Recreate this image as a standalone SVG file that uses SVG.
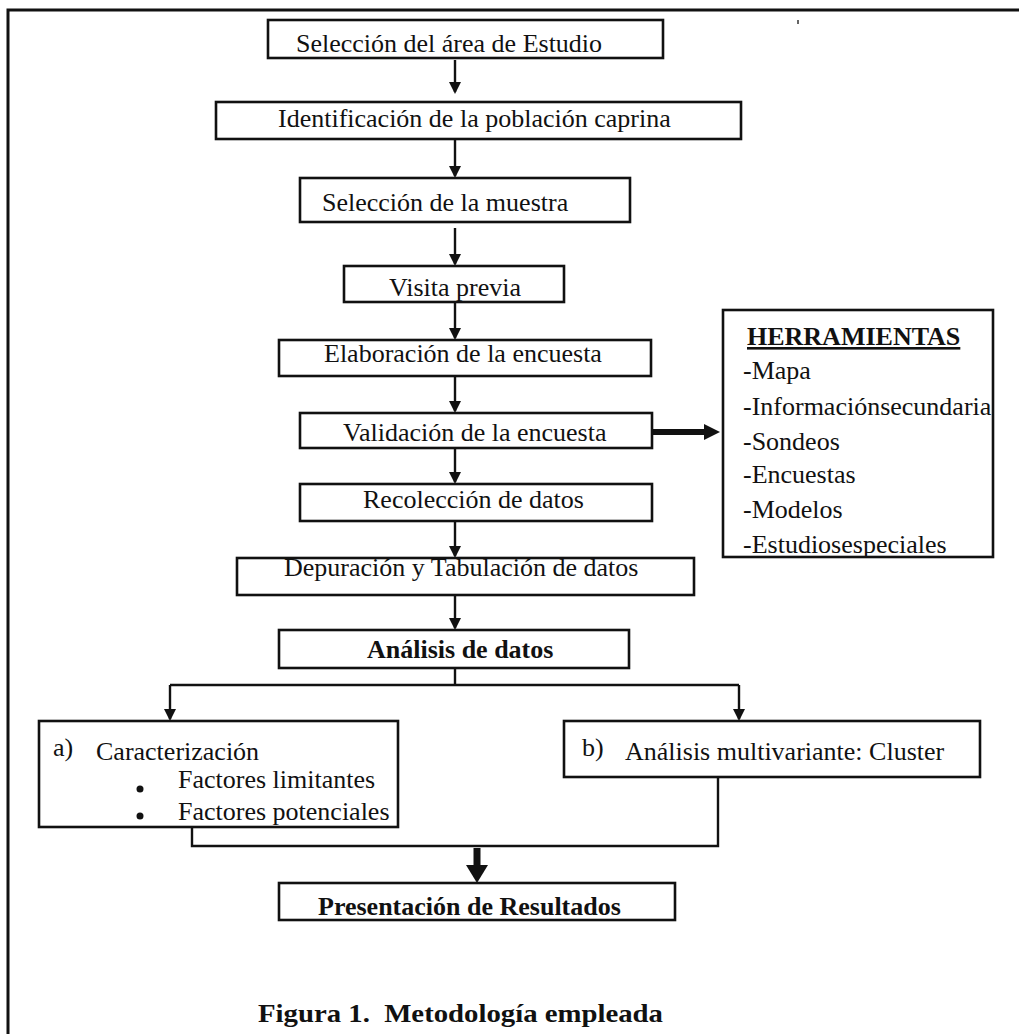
<svg xmlns="http://www.w3.org/2000/svg" width="1019" height="1034" viewBox="0 0 1019 1034">
<style>
.box{fill:#fff;stroke:#111;stroke-width:2.6}
.t{font-family:"Liberation Serif","Times New Roman",serif;font-size:26px;fill:#111}
.b{font-weight:bold}
.ln{fill:none;stroke:#111;stroke-width:2.4}
.ah{fill:#111}
</style>
<defs>
<marker id="arr" markerWidth="12" markerHeight="12" refX="10" refY="6" orient="auto" markerUnits="userSpaceOnUse">
<path d="M0,0 L12,6 L0,12 Z" class="ah"/>
</marker>
</defs>
<rect width="1019" height="1034" fill="#fff"/>
<g id="frame">
<path d="M8,1034 V10 H1019" fill="none" stroke="#111" stroke-width="3"/>
<rect x="797" y="20" width="2" height="4" fill="#666"/>
</g>
<g id="connectors">
<line class="ln" x1="455" y1="60" x2="455" y2="92" marker-end="url(#arr)"/>
<line class="ln" x1="455" y1="140" x2="455" y2="176" marker-end="url(#arr)"/>
<line class="ln" x1="455" y1="228" x2="455" y2="264" marker-end="url(#arr)"/>
<line class="ln" x1="455" y1="302" x2="455" y2="338" marker-end="url(#arr)"/>
<line class="ln" x1="455" y1="377" x2="455" y2="411" marker-end="url(#arr)"/>
<line class="ln" x1="455" y1="449" x2="455" y2="482" marker-end="url(#arr)"/>
<line class="ln" x1="455" y1="522" x2="455" y2="556" marker-end="url(#arr)"/>
<line class="ln" x1="455" y1="596" x2="455" y2="628" marker-end="url(#arr)"/>
<path d="M652,432 H706" fill="none" stroke="#111" stroke-width="6"/>
<path d="M704,424 L720,432 L704,440 Z" class="ah"/>
<path class="ln" d="M455,669 V685"/>
<path class="ln" d="M170,685 H739"/>
<line class="ln" x1="170" y1="685" x2="170" y2="719" marker-end="url(#arr)"/>
<line class="ln" x1="739" y1="685" x2="739" y2="719" marker-end="url(#arr)"/>
<path class="ln" d="M192,828 V846 H718 V778"/>
<path d="M477,848 V868" fill="none" stroke="#111" stroke-width="7"/>
<path d="M466,865 L488,865 L477,883 Z" class="ah"/>
</g>
<g id="n1"><rect class="box" x="268" y="20" width="395" height="38"/><text class="t" x="296" y="52">Selección del área de Estudio</text></g>
<g id="n2"><rect class="box" x="216" y="102" width="525" height="37"/><text class="t" x="278" y="127">Identificación de la población caprina</text></g>
<g id="n3"><rect class="box" x="300" y="178" width="330" height="44"/><text class="t" x="322" y="211">Selección de la muestra</text></g>
<g id="n4"><rect class="box" x="344" y="266" width="220" height="36"/><text class="t" x="389" y="296">Visita previa</text></g>
<g id="n5"><rect class="box" x="279" y="340" width="372" height="36"/><text class="t" x="324" y="362">Elaboración de la encuesta</text></g>
<g id="n6"><rect class="box" x="300" y="413" width="352" height="35"/><text class="t" x="343" y="441">Validación de la encuesta</text></g>
<g id="n7"><rect class="box" x="300" y="484" width="352" height="37"/><text class="t" x="363" y="508">Recolección de datos</text></g>
<g id="n8"><rect class="box" x="237" y="558" width="457" height="37"/><text class="t" x="284" y="576">Depuración y Tabulación de datos</text></g>
<g id="n9"><rect class="box" x="279" y="630" width="350" height="38"/><text class="t b" x="367" y="658">Análisis de datos</text></g>
<g id="herramientas">
<rect class="box" x="723" y="310" width="270" height="247"/>
<text class="t b" x="747" y="345" text-decoration="underline">HERRAMIENTAS</text>
<text class="t" x="743" y="379">-Mapa</text>
<text class="t" x="743" y="415">-Informaciónsecundaria</text>
<text class="t" x="743" y="450">-Sondeos</text>
<text class="t" x="743" y="483">-Encuestas</text>
<text class="t" x="743" y="518">-Modelos</text>
<text class="t" x="743" y="553">-Estudiosespeciales</text>
</g>
<g id="na">
<rect class="box" x="39" y="721" width="359" height="106"/>
<text class="t" x="53" y="756">a)</text>
<text class="t" x="96" y="760">Caracterización</text>
<circle cx="140" cy="789" r="3.5" fill="#111"/>
<circle cx="140" cy="816" r="3.5" fill="#111"/>
<text class="t" x="178" y="788">Factores limitantes</text>
<text class="t" x="178" y="820">Factores potenciales</text>
</g>
<g id="nb">
<rect class="box" x="564" y="721" width="416" height="56"/>
<text class="t" x="582" y="756">b)</text>
<text class="t" x="625" y="760">Análisis multivariante: Cluster</text>
</g>
<g id="n10"><rect class="box" x="279" y="883" width="396" height="37"/><text class="t b" x="318" y="915">Presentación de Resultados</text></g>
<g id="caption"><text class="t b" x="258" y="1022" font-size="29" textLength="405" lengthAdjust="spacingAndGlyphs" xml:space="preserve">Figura 1.  Metodología empleada</text></g>
</svg>
